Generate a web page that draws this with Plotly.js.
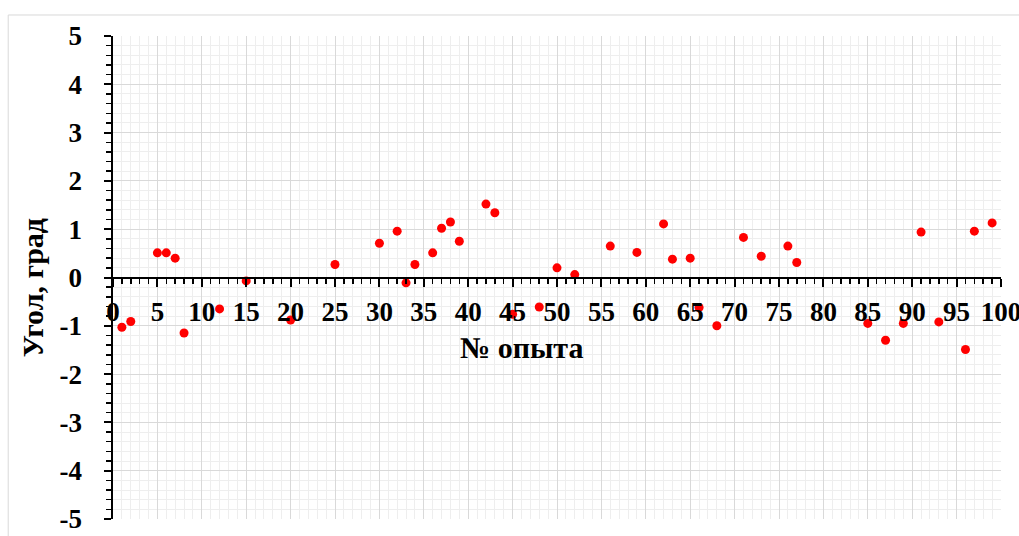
<!DOCTYPE html>
<html>
<head>
<meta charset="utf-8">
<script src="https://cdn.plot.ly/plotly-3.0.1.min.js"></script>
<style>html,body{margin:0;padding:0;background:#fff;}#chart{width:1019px;height:536px;}</style>
</head>
<body>
<div id="chart"></div>
<script>
const experimentNo = [1, 2, 5, 6, 7, 8, 12, 15, 20, 25, 30, 32, 33, 34, 36, 37, 38, 39, 42, 43, 45, 48, 50, 52, 56, 59, 62, 63, 65, 66, 68, 71, 73, 76, 77, 85, 87, 89, 91, 93, 96, 97, 99];
const angleDeg = [-1.03, -0.91, 0.51, 0.51, 0.40, -1.15, -0.65, -0.07, -0.88, 0.27, 0.71, 0.96, -0.11, 0.27, 0.51, 1.02, 1.15, 0.75, 1.52, 1.34, -0.76, -0.61, 0.20, 0.06, 0.65, 0.52, 1.11, 0.38, 0.40, -0.62, -1.00, 0.83, 0.44, 0.65, 0.31, -0.95, -1.30, -0.95, 0.94, -0.92, -1.49, 0.96, 1.13];

const xTickVals = [0, 5, 10, 15, 20, 25, 30, 35, 40, 45, 50, 55, 60, 65, 70, 75, 80, 85, 90, 95, 100];
const xTickText = xTickVals.map(String);
const yTickVals = [-5, -4, -3, -2, -1, 0, 1, 2, 3, 4, 5];
const yTickText = ["-5", "-4", "-3", "-2", "-1", "0", "1", "2", "3", "4", "5"];

const xTitle = "№ опыта";
const yTitle = "Угол, град";

const font = "'Liberation Serif', 'Times New Roman', serif";

const trace = {
  x: experimentNo,
  y: angleDeg,
  type: 'scatter',
  mode: 'markers',
  marker: {color: '#ff0000', size: 9},
  hoverinfo: 'x+y',
  showlegend: false
};

const layout = {
  width: 1019,
  height: 536,
  margin: {l: 113, r: 18, t: 36, b: 17},
  paper_bgcolor: '#ffffff',
  plot_bgcolor: '#ffffff',
  font: {family: font, color: '#000', size: 27},
  xaxis: {
    range: [0, 100],
    anchor: 'free',
    position: 0.5,
    tickmode: 'array',
    tickvals: xTickVals,
    ticktext: xTickText,
    tickfont: {family: font, size: 27, color: '#000', weight: 'bold'},
    ticklabeloverflow: 'allow',
    showline: true,
    linecolor: '#000',
    linewidth: 2.5,
    ticks: 'outside',
    ticklen: 8,
    tickwidth: 2,
    tickcolor: '#000',
    ticklabelstandoff: 2,
    showgrid: true,
    gridcolor: '#d9d9d9',
    gridwidth: 1,
    zeroline: false,
    minor: {dtick: 1, ticks: 'outside', ticklen: 5, tickwidth: 1.5, tickcolor: '#000', showgrid: true, gridcolor: '#eeeeee', gridwidth: 1},
    fixedrange: true
  },
  yaxis: {
    range: [-5, 5],
    domain: [0, 1],
    tickmode: 'array',
    tickvals: yTickVals,
    ticktext: yTickText,
    tickfont: {family: font, size: 27, color: '#000', weight: 'bold'},
    ticklabeloverflow: 'allow',
    showline: true,
    linecolor: '#000',
    linewidth: 2.5,
    ticks: 'outside',
    ticklen: 7,
    tickwidth: 2,
    tickcolor: '#000',
    ticklabelstandoff: 16,
    showgrid: true,
    gridcolor: '#d9d9d9',
    gridwidth: 1,
    zeroline: false,
    minor: {dtick: 0.2, ticks: 'outside', ticklen: 5, tickwidth: 1.5, tickcolor: '#000', showgrid: true, gridcolor: '#eeeeee', gridwidth: 1},
    fixedrange: true
  },
  shapes: [
    {type: 'rect', xref: 'paper', yref: 'paper', x0: -0.118, x1: 1.05, y0: -0.1, y1: 1.0435,
     line: {color: '#d9d9d9', width: 1}, fillcolor: 'rgba(0,0,0,0)', layer: 'below'}
  ],
  annotations: [
    {text: xTitle, xref: 'paper', yref: 'paper', x: 0.4595, y: 0.356, xanchor: 'center', yanchor: 'middle',
     showarrow: false, font: {family: font, size: 30, color: '#000', weight: 'bold'}},
    {text: yTitle, xref: 'paper', yref: 'paper', x: -0.091, y: 0.478, xanchor: 'center', yanchor: 'middle',
     textangle: -90, showarrow: false, font: {family: font, size: 30, color: '#000', weight: 'bold'}}
  ]
};

Plotly.newPlot('chart', [trace], layout, {staticPlot: true, displayModeBar: false});
</script>
</body>
</html>
